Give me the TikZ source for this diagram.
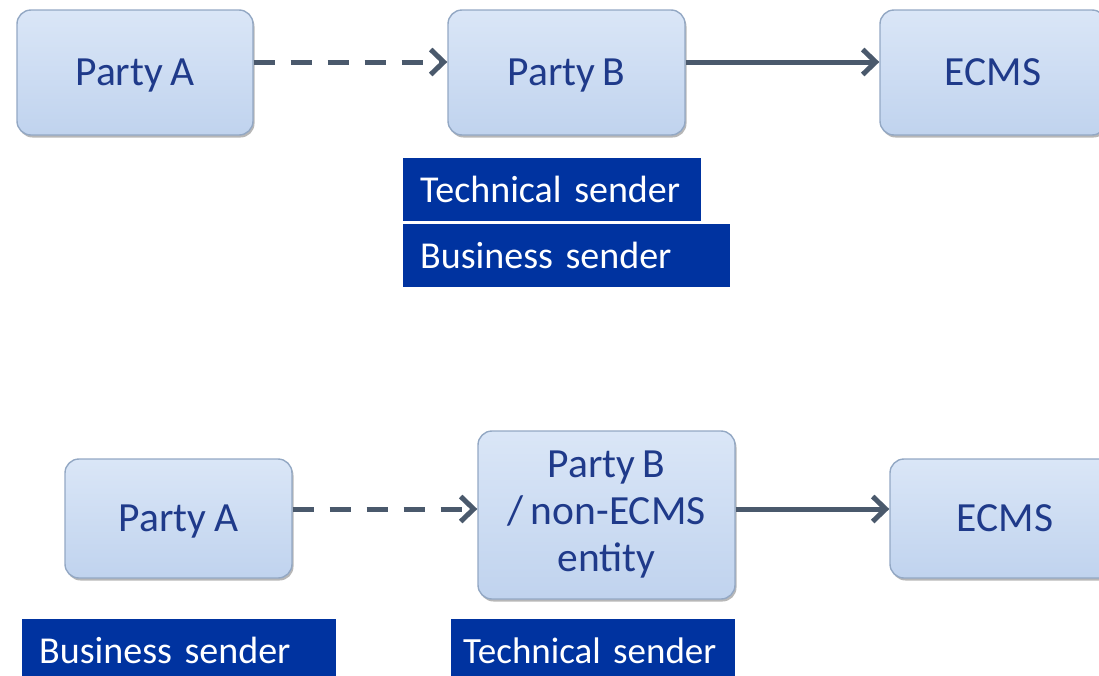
\documentclass[tikz,border=0pt]{standalone}
\usepackage{fontspec}
\setmainfont{Carlito}[WordSpace=0.8]
\usetikzlibrary{arrows.meta,shadows,shadings}
\definecolor{boxTop}{HTML}{DAE6F7}
\definecolor{boxBottom}{HTML}{C0D3EE}
\definecolor{boxEdge}{HTML}{93A8C4}
\definecolor{partyText}{HTML}{1F3A8A}
\definecolor{roleBlue}{HTML}{0033A0}
\definecolor{flowGray}{HTML}{4A596C}
\begin{document}
\begin{tikzpicture}[x=1pt, y=-1pt,
    party/.style={rounded corners=14pt, draw=boxEdge, line width=1.4pt,
      top color=boxTop, bottom color=boxBottom,
      drop shadow={shadow xshift=1.5pt, shadow yshift=-2.5pt, opacity=.4, fill=black!70},
      text=partyText, font=\fontsize{41.5}{47}\selectfont, align=center, inner sep=0pt},
    role/.style={anchor=north west, fill=roleBlue, text=white, font=\fontsize{38}{44}\selectfont,
      inner xsep=17pt, inner ysep=0pt, minimum height=63pt, align=left},
    flow/.style={draw=flowGray, line width=5pt, -{Straight Barb[length=13pt,width=25pt]}},
    dashflow/.style={flow, dash pattern=on 21pt off 16pt}]
    \useasboundingbox (0,0) rectangle (1099,675);

    \node[party, text depth=0pt, minimum width=236pt, minimum height=125pt] (partyA1) at (135,72.5) {Party A};
    \node[party, text depth=0pt, minimum width=237pt, minimum height=125pt] (partyB1) at (566.5,72.5) {Party B};
    \node[party, minimum width=226pt, minimum height=125pt] (ecms1) at (993,72.5) {ECMS};
    \node[role, text width=264pt] (tech1) at (403,158) {Technical sender};
    \node[role, text width=293pt] (busi1) at (403,224) {Business sender};

    \node[party, text depth=0pt, minimum width=227pt, minimum height=119pt] (partyA2) at (178.5,518.5) {Party A};
    \node[party, minimum width=257pt, minimum height=168pt] (partyB2) at (606.5,515) {Party B\\/ non-ECMS\\entity};
    \node[party, minimum width=230pt, minimum height=119pt] (ecms2) at (1005,518.5) {ECMS};
    \node[role, text width=280pt] (busi2) at (22,619) {Business sender};
    \node[role, text width=260pt, inner xsep=12pt, font=\fontsize{37}{44}\selectfont] (tech2) at (451,619) {Technical sender};

    \draw[dashflow] ([yshift=10.5pt]partyA1.east) -- ([yshift=10.5pt]partyA1.east -| partyB1.west);
    \draw[flow] ([yshift=10.5pt]partyB1.east) -- ([yshift=10.5pt]partyB1.east -| ecms1.west);
    \draw[dashflow] ([yshift=9.5pt]partyA2.east) -- ([yshift=9.5pt]partyA2.east -| partyB2.west);
    \draw[flow] ([yshift=9.5pt]partyA2.east -| partyB2.east) -- ([yshift=9.5pt]partyA2.east -| ecms2.west);
\end{tikzpicture}
\end{document}
